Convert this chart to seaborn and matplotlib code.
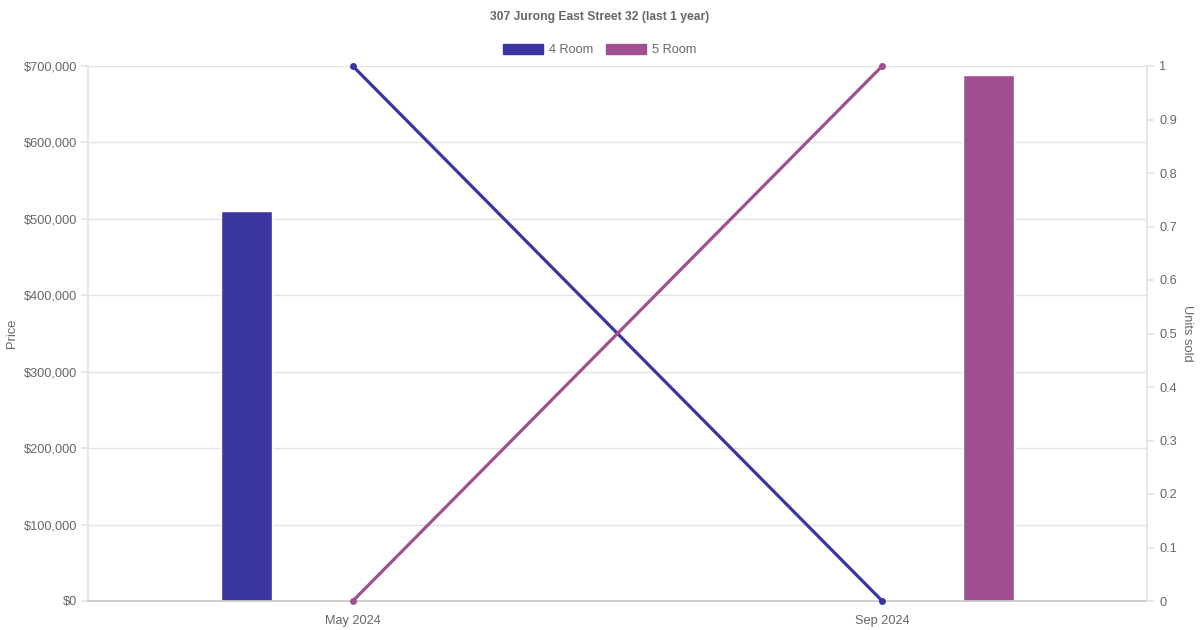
import pandas as pd
import seaborn as sns
from matplotlib import pyplot as plt

# data
months = ['May 2024', 'Sep 2024']
flat_types = ['4 Room', '5 Room']
bar_month = ['May 2024', 'Sep 2024']
bar_type = ['4 Room', '5 Room']
bar_price = [510000, 688000]
units_4room = [1, 0]
units_5room = [0, 1]
price_ticks = [0, 100000, 200000, 300000, 400000, 500000, 600000, 700000]

colors = {'4 Room': '#3a35a0', '5 Room': '#a05092'}
grey = '#666666'
grid_c = '#e4e4e4'

sns.set_theme(style='white')
plt.rcParams['font.family'] = ['Liberation Sans', 'DejaVu Sans']

fig = plt.figure(figsize=(12, 6.3), dpi=100)
ax = fig.add_axes([88 / 1200, 29 / 630, (1147 - 88) / 1200, (601 - 66) / 630])

bars = pd.DataFrame({'month': bar_month, 'type': bar_type, 'price': bar_price})
sns.barplot(data=bars, x='month', y='price', hue='type', order=months,
            hue_order=flat_types, palette=colors, width=0.8, gap=0.76,
            dodge=True, ax=ax, legend=False, saturation=1)

ax.set_ylim(0, 700000)
ax.set_xlim(-0.5, 1.5)
ax.set_yticks(price_ticks)
ax.set_yticklabels(['${:,.0f}'.format(v) for v in price_ticks])
ax.yaxis.grid(True, color=grid_c, linewidth=1)
ax.set_axisbelow(True)
ax.set_xlabel('')
ax.set_ylabel('Price', color=grey, fontsize=9.3, labelpad=4)
ax.tick_params(axis='y', colors=grey, labelsize=9.2, length=5, color=grid_c, pad=3)
ax.tick_params(axis='x', colors=grey, labelsize=9.2, length=0, pad=10)
for s in ['top', 'right']:
    ax.spines[s].set_visible(False)
ax.spines['left'].set_color(grid_c)
ax.spines['bottom'].set_color('#c8c8c8')

# units sold on the right axis
ax2 = ax.twinx()
xs = list(range(len(months)))
lines = pd.DataFrame({'x': xs * 2,
                      'units': units_4room + units_5room,
                      'type': ['4 Room'] * len(months) + ['5 Room'] * len(months)})
sns.lineplot(data=lines, x='x', y='units', hue='type', hue_order=flat_types,
             palette=colors, marker='o', markersize=5, markeredgewidth=0,
             linewidth=2.3, ax=ax2, legend=False, clip_on=False)
ax2.set_ylim(0, 1)
ax2.set_xlim(-0.5, 1.5)
ax2.set_yticks([i / 10 for i in range(11)])
ax2.set_yticklabels(['0', '0.1', '0.2', '0.3', '0.4', '0.5', '0.6', '0.7', '0.8', '0.9', '1'])
ax2.set_ylabel('Units sold', color=grey, fontsize=9.3, rotation=270, labelpad=11)
ax2.set_xlabel('')
ax2.tick_params(axis='y', colors=grey, labelsize=9.2, length=5, color=grid_c, pad=4)
for s in ['top', 'left', 'bottom']:
    ax2.spines[s].set_visible(False)
ax2.spines['right'].set_color(grid_c)

# legend and title
handles = [plt.Rectangle((0, 0), 1, 1, color=colors[t]) for t in flat_types]
fig.legend(handles, flat_types, loc='center', bbox_to_anchor=(0.5, 1 - 50 / 630),
           ncol=2, frameon=False, fontsize=9.2, labelcolor=grey,
           handlelength=3.1, handleheight=0.9, handletextpad=0.5, columnspacing=1.0)
fig.text(0.5, 1 - 17 / 630, '307 Jurong East Street 32 (last 1 year)',
         ha='center', va='center', fontsize=8.7, fontweight='bold', color=grey)

fig.savefig('out.png', dpi=100)
